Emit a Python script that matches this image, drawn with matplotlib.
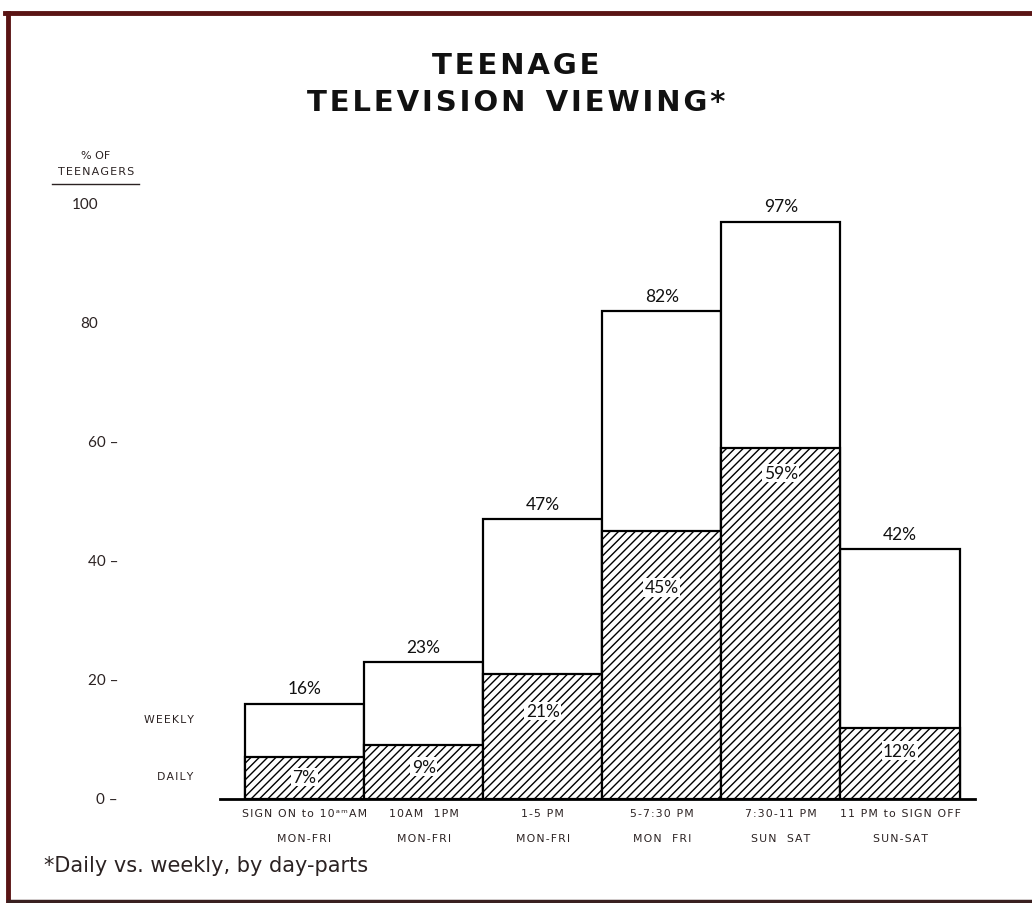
import matplotlib
matplotlib.use("Agg")
import matplotlib.pyplot as plt
import matplotlib.transforms as mtransforms
from matplotlib.lines import Line2D

# ---- data ----
categories_line1 = ["SIGN ON to 10ᵃᵐAM", "10AM  1PM", "1-5 PM", "5-7:30 PM", "7:30-11 PM", "11 PM to SIGN OFF"]
categories_line2 = ["MON-FRI", "MON-FRI", "MON-FRI", "MON  FRI", "SUN  SAT", "SUN-SAT"]
weekly = [16, 23, 47, 82, 97, 42]
daily = [7, 9, 21, 45, 59, 12]
weekly_labels = ["16%", "23%", "47%", "82%", "97%", "42%"]
daily_labels = ["7%", "9%", "21%", "45%", "59%", "12%"]
daily_label_drop = [3.3, 3.6, 6.2, 9.4, 4.2, 3.9]
yticks = [0, 20, 40, 60, 80, 100]
ytick_labels = ["0 –", "20 –", "40 –", "60 –", "80", "100"]

plt.rcParams['hatch.linewidth'] = 1.0
FONT = "Lato"
SMALL = "DejaVu Sans"
TXT = "#2b2222"


def spaced(s):
    return "\u200a".join(s)


fig = plt.figure(figsize=(10.32, 9.04), dpi=100)
fig.patch.set_facecolor("white")

W, H = 1032, 904
def fx(px): return px / W
def fy(py): return 1 - py / H

ax = fig.add_axes([fx(220), fy(800), fx(975) - fx(220), (800 - 205) / H])
x = list(range(len(weekly)))
ax.bar(x, weekly, width=1.0, color="white", edgecolor="black", linewidth=1.6, zorder=2)
ax.bar(x, daily, width=1.0, color="white", edgecolor="black", linewidth=1.6,
       hatch="////", zorder=3)

ax.set_xlim(-0.71, 5.63)
ax.set_ylim(0, 100)
for s in ["left", "right", "top"]:
    ax.spines[s].set_visible(False)
ax.spines["bottom"].set_linewidth(2.0)
ax.spines["bottom"].set_zorder(4)
ax.set_xticks([])
ax.set_yticks([])

# weekly labels above bars
for xi, v, lab in zip(x, weekly, weekly_labels):
    ax.text(xi, v + 2.6, lab, ha="center", va="center", fontsize=12.5,
            family=FONT, color="#111111", clip_on=False)

# daily labels inside hatched area
for xi, v, lab, d in zip(x, daily, daily_labels, daily_label_drop):
    ax.text(xi, v - d, lab, ha="center", va="center", fontsize=12.5,
            family=FONT, color="#111111", zorder=5,
            bbox=dict(boxstyle="square,pad=0.08", fc="white", ec="none"))

# category labels
for xi, l1, l2 in zip(x, categories_line1, categories_line2):
    ax.text(xi, -2.35, spaced(l1), ha="center", va="center", fontsize=7.8,
            family=SMALL, color=TXT, clip_on=False)
    ax.text(xi, -6.55, spaced(l2), ha="center", va="center", fontsize=7.8,
            family=SMALL, color=TXT, clip_on=False)

# y tick labels (figure x, data y)
trans = mtransforms.blended_transform_factory(fig.transFigure, ax.transData)
for t, lab in zip(yticks, ytick_labels):
    xr = 118 if lab.endswith("–") else 98
    ax.text(fx(xr), t, lab, ha="right", va="center", fontsize=11,
            family=FONT, color=TXT, transform=trans, clip_on=False)

ax.text(fx(169), 13.5, spaced("WEEKLY"), ha="center", va="center", fontsize=7.8,
        family=SMALL, color=TXT, transform=trans, clip_on=False)
ax.text(fx(175), 3.9, spaced("DAILY"), ha="center", va="center", fontsize=7.8,
        family=SMALL, color=TXT, transform=trans, clip_on=False)

# y axis title
fig.text(fx(96), fy(156), "% OF", ha="center", va="center", fontsize=8,
         family=SMALL, color=TXT)
fig.text(fx(96), fy(172), spaced("TEENAGERS"), ha="center", va="center", fontsize=8,
         family=SMALL, color=TXT)
fig.add_artist(Line2D([fx(52), fx(139)], [fy(185), fy(185)], color=TXT, lw=1.0))

# title
fig.text(fx(516), fy(66), spaced("TEENAGE"), ha="center", va="center", fontsize=21,
         family=SMALL, weight="bold", color="#111111")
fig.text(fx(516), fy(103), spaced("TELEVISION") + "  " + spaced("VIEWING*"),
         ha="center", va="center", fontsize=21, family=SMALL, weight="bold",
         color="#111111")

# footnote
fig.text(fx(44), fy(866), "*Daily vs. weekly, by day-parts", ha="left",
         va="center", fontsize=15, family=SMALL, color=TXT)

# border
BORDER = "#5a1414"
fig.add_artist(Line2D([fx(5), fx(1032)], [fy(14), fy(14)], color=BORDER, lw=3.5))
fig.add_artist(Line2D([fx(8), fx(8)], [fy(14), fy(904)], color=BORDER, lw=3.5))
fig.add_artist(Line2D([fx(8), fx(1032)], [fy(902), fy(902)], color="#3a2020", lw=2.5))

fig.savefig("out.png", dpi=100, facecolor="white")
